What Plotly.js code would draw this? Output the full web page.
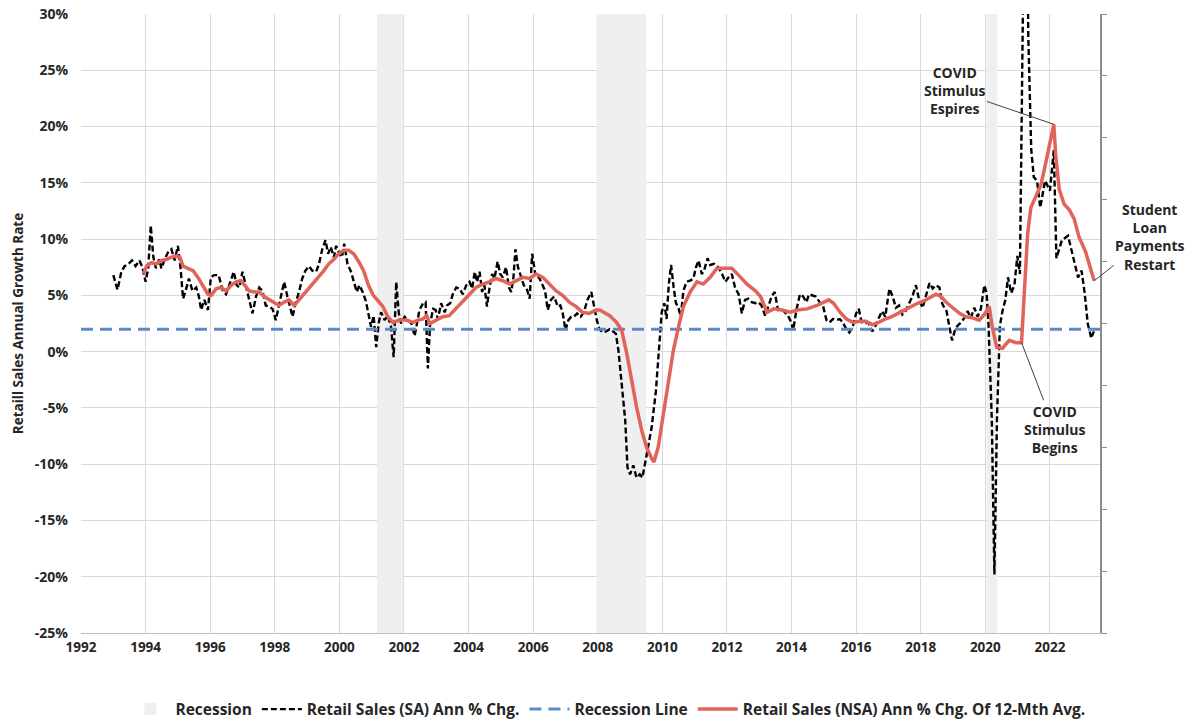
<!DOCTYPE html>
<html>
<head>
<meta charset="utf-8">
<script src="https://cdn.plot.ly/plotly-3.0.1.min.js"></script>
<style>html,body{margin:0;padding:0;background:#fff;}#chart{width:1192px;height:724px;}</style>
</head>
<body>
<div id="chart"></div>
<script>
// ---- Data (decimal years, % values) ----
const saYears = [1993.0,1993.13,1993.25,1993.35,1993.47,1993.58,1993.69,1993.81,1993.9,1994.0,1994.08,1994.16,1994.24,1994.32,1994.42,1994.49,1994.59,1994.69,1994.8,1994.9,1995.0,1995.08,1995.16,1995.24,1995.34,1995.45,1995.57,1995.65,1995.72,1995.82,1995.93,1996.02,1996.12,1996.26,1996.39,1996.49,1996.59,1996.73,1996.82,1996.9,1997.0,1997.11,1997.21,1997.31,1997.42,1997.52,1997.62,1997.72,1997.83,1997.93,1998.03,1998.13,1998.22,1998.29,1998.39,1998.47,1998.55,1998.65,1998.75,1998.85,1998.95,1999.06,1999.16,1999.28,1999.37,1999.47,1999.57,1999.65,1999.73,1999.83,1999.9,2000.0,2000.08,2000.15,2000.25,2000.36,2000.46,2000.54,2000.62,2000.72,2000.82,2000.9,2000.98,2001.06,2001.14,2001.22,2001.29,2001.4,2001.5,2001.6,2001.68,2001.76,2001.84,2001.91,2002.02,2002.12,2002.23,2002.33,2002.4,2002.48,2002.59,2002.67,2002.74,2002.81,2002.9,2002.98,2003.05,2003.15,2003.26,2003.33,2003.43,2003.51,2003.62,2003.72,2003.82,2003.93,2004.03,2004.11,2004.19,2004.26,2004.34,2004.42,2004.49,2004.57,2004.65,2004.73,2004.8,2004.9,2004.98,2005.06,2005.16,2005.25,2005.32,2005.39,2005.45,2005.53,2005.63,2005.71,2005.8,2005.89,2005.97,2006.08,2006.18,2006.28,2006.37,2006.45,2006.55,2006.65,2006.76,2006.84,2006.91,2007.0,2007.09,2007.18,2007.26,2007.36,2007.47,2007.57,2007.68,2007.8,2007.89,2007.97,2008.05,2008.15,2008.26,2008.37,2008.47,2008.56,2008.64,2008.74,2008.85,2008.92,2009.0,2009.1,2009.2,2009.3,2009.38,2009.5,2009.6,2009.67,2009.8,2009.9,2009.98,2010.06,2010.13,2010.2,2010.27,2010.35,2010.42,2010.49,2010.57,2010.65,2010.75,2010.86,2010.96,2011.04,2011.12,2011.22,2011.29,2011.4,2011.48,2011.6,2011.73,2011.85,2011.95,2012.05,2012.15,2012.25,2012.36,2012.46,2012.56,2012.66,2012.77,2012.87,2012.97,2013.07,2013.18,2013.28,2013.38,2013.48,2013.58,2013.69,2013.79,2013.89,2013.99,2014.05,2014.15,2014.26,2014.36,2014.46,2014.54,2014.65,2014.75,2014.87,2014.98,2015.08,2015.18,2015.28,2015.38,2015.49,2015.59,2015.69,2015.79,2015.9,2016.0,2016.08,2016.17,2016.27,2016.37,2016.5,2016.6,2016.7,2016.8,2016.9,2017.03,2017.13,2017.23,2017.33,2017.43,2017.53,2017.64,2017.74,2017.85,2017.95,2018.06,2018.16,2018.27,2018.37,2018.47,2018.58,2018.66,2018.73,2018.8,2018.88,2018.97,2019.07,2019.14,2019.25,2019.35,2019.45,2019.55,2019.66,2019.76,2019.86,2019.97,2020.04,2020.1,2020.2,2020.28,2020.36,2020.45,2020.53,2020.62,2020.7,2020.8,2020.9,2020.99,2021.07,2021.17,2021.25,2021.33,2021.42,2021.5,2021.6,2021.7,2021.85,2022.0,2022.12,2022.2,2022.37,2022.56,2022.7,2022.87,2022.98,2023.08,2023.17,2023.28,2023.36];
const saValues = [6.8,5.5,7.1,7.6,7.8,8.1,7.6,8.1,7.5,6.2,7.4,11.2,8.4,7.4,8.2,7.4,8.2,8.8,9.1,8.1,9.4,7.5,4.7,5.4,6.5,5.4,5.7,4.9,3.7,4.6,3.7,6.6,6.8,6.8,5.4,5.1,5.9,7.1,5.9,5.7,7.1,5.7,4.6,3.4,4.9,5.7,5.4,4.1,4.0,3.8,2.8,4.0,5.1,6.2,4.9,4.0,3.1,4.4,5.3,6.5,7.2,7.6,7.2,7.1,7.8,9.1,9.9,8.7,9.3,8.4,9.4,8.7,8.4,9.6,7.8,7.1,6.2,5.3,5.9,5.3,4.5,3.5,2.2,3.2,0.4,2.6,3.5,2.8,3.2,2.2,-0.5,6.2,3.4,2.5,3.1,2.8,2.5,1.4,2.5,3.7,4.3,4.4,-1.5,2.5,3.8,3.7,2.9,4.3,3.5,4.1,4.3,5.1,5.7,5.6,5.1,5.9,6.2,5.6,7.1,6.2,7.1,5.3,5.9,4.0,5.7,6.9,6.5,8.0,6.9,6.6,7.5,5.7,5.3,6.6,9.1,7.5,6.6,5.9,5.6,4.7,8.7,6.6,6.6,6.0,5.4,3.7,4.6,4.9,4.0,4.1,3.5,1.9,2.8,3.1,3.1,3.4,3.1,3.5,4.6,5.3,4.0,2.8,2.0,1.7,1.8,2.0,1.8,1.6,0.1,-2.6,-6.1,-10.3,-10.9,-10.1,-11.2,-10.9,-11.2,-9.4,-7.6,-6.7,-3.5,0.1,3.5,4.3,2.9,6.0,7.7,5.7,4.3,4.0,3.1,5.4,6.2,6.3,6.5,7.5,8.1,6.9,7.2,8.3,7.7,7.8,7.5,6.9,6.2,6.6,6.9,5.7,5.1,3.4,4.6,4.7,4.4,4.3,4.4,4.1,3.2,4.0,4.9,5.3,3.7,3.8,3.5,3.2,2.6,1.9,3.7,5.1,4.9,4.4,5.1,5.0,4.9,4.4,4.0,2.8,2.6,2.9,2.8,2.9,2.6,2.0,1.7,2.3,3.4,3.8,2.6,2.5,2.6,1.8,2.3,3.0,3.6,3.1,5.6,4.9,3.9,4.1,3.3,3.6,4.3,4.9,5.9,4.6,3.9,4.9,6.1,5.6,5.9,5.7,4.3,3.9,3.6,2.3,1.0,2.0,2.3,2.6,3.0,3.6,3.0,3.9,3.1,3.8,5.9,5.2,2.3,-6.0,-19.8,-6.0,2.3,3.6,4.6,6.6,5.2,5.9,8.5,6.9,29.0,52.0,28.0,18.0,15.5,15.2,12.8,15.2,14.3,17.9,8.3,9.9,10.3,8.7,6.6,7.2,5.1,2.5,1.2,1.8];

const nsaYears = [1993.93,1994.03,1994.18,1994.33,1994.49,1994.65,1994.8,1994.95,1995.06,1995.16,1995.31,1995.47,1995.62,1995.77,1995.93,1996.03,1996.19,1996.34,1996.49,1996.65,1996.8,1996.95,1997.06,1997.21,1997.37,1997.52,1997.67,1997.83,1997.98,1998.13,1998.29,1998.44,1998.6,1998.75,1998.9,1999.06,1999.21,1999.36,1999.52,1999.67,1999.83,1999.98,2000.13,2000.29,2000.44,2000.6,2000.75,2000.9,2001.05,2001.2,2001.35,2001.5,2001.66,2001.86,2002.07,2002.28,2002.43,2002.59,2002.7,2002.8,2003.0,2003.2,2003.4,2003.6,2003.82,2004.03,2004.23,2004.44,2004.64,2004.85,2005.06,2005.27,2005.47,2005.68,2005.89,2006.09,2006.3,2006.5,2006.71,2006.91,2007.12,2007.33,2007.53,2007.74,2007.95,2008.06,2008.2,2008.37,2008.58,2008.74,2008.9,2009.05,2009.2,2009.36,2009.51,2009.67,2009.74,2009.87,2010.03,2010.19,2010.34,2010.5,2010.65,2010.86,2011.07,2011.27,2011.48,2011.69,2011.9,2012.15,2012.36,2012.62,2012.88,2013.04,2013.24,2013.45,2013.7,2013.96,2014.17,2014.48,2014.79,2015.0,2015.15,2015.3,2015.5,2015.7,2015.9,2016.1,2016.3,2016.5,2016.7,2016.9,2017.1,2017.3,2017.5,2017.7,2017.9,2018.1,2018.3,2018.47,2018.63,2018.78,2018.99,2019.2,2019.4,2019.6,2019.81,2019.97,2020.12,2020.22,2020.35,2020.53,2020.74,2020.95,2021.12,2021.2,2021.31,2021.41,2021.57,2021.72,2021.88,2022.03,2022.12,2022.18,2022.29,2022.44,2022.6,2022.75,2022.9,2023.1,2023.25,2023.37];
const nsaValues = [6.9,7.6,7.9,7.8,8.1,8.2,8.4,8.5,8.4,7.6,7.4,7.2,6.6,5.9,5.1,5.0,5.6,5.7,5.4,5.9,6.2,6.3,5.9,5.4,5.3,5.3,4.9,4.6,4.4,4.1,4.4,4.6,4.1,4.6,5.1,5.7,6.2,6.6,7.2,7.8,8.2,8.7,9.0,9.0,8.7,8.0,7.2,5.9,5.0,4.5,4.0,3.1,2.6,2.8,2.8,2.6,2.8,2.9,3.2,2.5,2.8,3.1,3.2,3.8,4.4,5.0,5.7,6.0,6.2,6.5,6.3,6.0,6.3,6.6,6.5,6.9,6.6,6.0,5.4,5.0,4.4,4.0,3.5,3.4,3.7,3.7,3.5,3.2,2.6,1.9,-0.2,-2.6,-4.9,-7.0,-8.5,-9.5,-9.8,-8.5,-5.5,-2.6,0.1,2.2,4.0,5.3,6.2,6.0,6.6,7.4,7.4,7.4,6.8,6.0,5.4,4.9,3.5,3.8,3.7,3.5,3.7,3.8,4.1,4.4,4.6,4.3,3.5,2.9,2.6,2.7,2.7,2.4,2.6,2.9,3.1,3.4,3.7,4.0,4.3,4.5,4.8,5.1,4.9,4.4,3.9,3.4,3.1,3.0,2.8,3.3,4.0,2.1,0.4,0.3,1.0,0.8,0.8,4.9,10.5,12.8,13.8,14.8,16.9,18.9,20.2,17.4,14.4,13.1,12.6,11.8,10.2,8.9,7.5,6.3];

const recessionStart = [2001.17, 2007.96, 2020.04];
const recessionEnd   = [2001.98, 2009.50, 2020.37];
const recessionLineLevel = 2;

const xTicks = [1992,1994,1996,1998,2000,2002,2004,2006,2008,2010,2012,2014,2016,2018,2020,2022];
const yTicks = [-25,-20,-15,-10,-5,0,5,10,15,20,25,30];

const seriesNames = ['Recession','Retail Sales (SA) Ann % Chg.','Recession Line','Retail Sales (NSA) Ann % Chg. Of 12-Mth Avg.'];

// ---- Chart ----
const xRange = [1992, 2023.55];
const yRange = [-25, 30];
const FONT = 'Open Sans, sans-serif';
const INK = '#262626';

const traces = [
  {
    type: 'bar', name: seriesNames[0],
    x: recessionStart.map((s, i) => (s + recessionEnd[i]) / 2),
    width: recessionStart.map((s, i) => recessionEnd[i] - s),
    y: recessionStart.map(() => yRange[1] - yRange[0]),
    base: yRange[0],
    marker: {color: '#efefef', line: {width: 0}},
    hoverinfo: 'skip'
  },
  {
    type: 'scatter', mode: 'lines', name: seriesNames[1],
    x: saYears, y: saValues,
    line: {color: '#000000', width: 2.4, dash: '6px,3px'}
  },
  {
    type: 'scatter', mode: 'lines', name: seriesNames[2],
    x: xRange, y: xRange.map(() => recessionLineLevel),
    line: {color: '#5b8cc8', width: 3, dash: '12px,7px'}
  },
  {
    type: 'scatter', mode: 'lines', name: seriesNames[3],
    x: nsaYears, y: nsaValues,
    line: {color: '#e0645a', width: 3.5}
  },
  {
    type: 'scatter', mode: 'lines', x: [null], y: [null], yaxis: 'y2',
    showlegend: false, hoverinfo: 'skip'
  }
];

const lastIdx = nsaYears.length - 1;
let peakIdx = 0;
nsaValues.forEach((v, i) => { if (v > nsaValues[peakIdx]) peakIdx = i; });
const beginIdx = nsaYears.indexOf(2021.12);

const annFont = {family: FONT, weight: 'bold', size: 14, color: INK};

const layout = {
  width: 1192, height: 724,
  margin: {l: 81, r: 92, t: 14, b: 91, autoexpand: false},
  paper_bgcolor: '#ffffff', plot_bgcolor: '#ffffff',
  font: {family: FONT, color: INK, size: 13},
  showlegend: true,
  barmode: 'overlay',
  xaxis: {
    range: xRange, tickvals: xTicks, ticktext: xTicks.map(String),
    showgrid: true, gridcolor: '#d9d9d9', gridwidth: 1,
    showline: true, linecolor: '#bfbfbf', linewidth: 1,
    ticks: '', zeroline: false, automargin: false, ticklabelstandoff: 2,
    tickfont: {family: FONT, weight: 'bold', size: 13.5, color: INK}
  },
  yaxis: {
    range: yRange, tickvals: yTicks, ticktext: yTicks.map(v => v + '%'),
    showgrid: true, gridcolor: '#d9d9d9', gridwidth: 1,
    zeroline: false, showline: false, ticks: '', automargin: false,
    ticklabelstandoff: 12,
    tickfont: {family: FONT, weight: 'bold', size: 14, color: INK},
    title: {text: 'Retaill Sales Annual Growth Rate', standoff: 8,
            font: {family: FONT, weight: 'bold', size: 13.5, color: INK}}
  },
  yaxis2: {
    overlaying: 'y', side: 'right', range: [0, 10], dtick: 1,
    showticklabels: false, ticks: 'outside', ticklen: 5, tickcolor: '#8c8c8c',
    showline: true, linecolor: '#8c8c8c', linewidth: 1.5, showgrid: false, zeroline: false
  },
  legend: {
    orientation: 'h', x: 0.51, xref: 'container', xanchor: 'center',
    y: 0.02, yref: 'container', yanchor: 'middle',
    font: {family: FONT, weight: 'bold', size: 15.5, color: INK},
    traceorder: 'normal', itemwidth: 40
  },
  annotations: [
    {
      x: nsaYears[peakIdx], y: nsaValues[peakIdx], xref: 'x', yref: 'y',
      ax: 2019.06, ay: 23.2, axref: 'x', ayref: 'y',
      text: 'COVID<br>Stimulus<br>Espires', showarrow: true, arrowhead: 0,
      arrowwidth: 1, arrowcolor: '#404040', font: annFont
    },
    {
      x: nsaYears[beginIdx], y: nsaValues[beginIdx], xref: 'x', yref: 'y',
      ax: 2022.15, ay: -6.9, axref: 'x', ayref: 'y',
      text: 'COVID<br>Stimulus<br>Begins', showarrow: true, arrowhead: 0,
      arrowwidth: 1, arrowcolor: '#404040', font: annFont
    },
    {
      x: nsaYears[lastIdx], y: nsaValues[lastIdx], xref: 'x', yref: 'y',
      ax: 56, ay: -44,
      text: 'Student<br>Loan<br>Payments<br>Restart', showarrow: true, arrowhead: 0,
      arrowwidth: 1, arrowcolor: '#404040', font: annFont
    }
  ]
};

Plotly.newPlot('chart', traces, layout, {displayModeBar: false, staticPlot: true});
</script>
</body>
</html>
